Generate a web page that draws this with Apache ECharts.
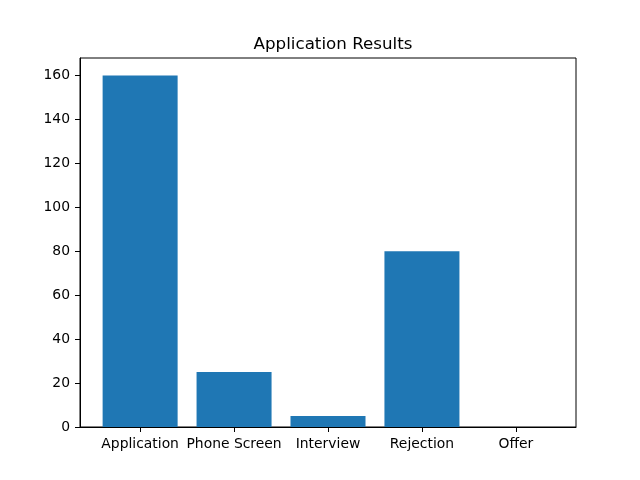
<!DOCTYPE html>
<html lang="en">
<head>
    <meta charset="utf-8" />
    <title>Application Results</title>
    <script src="https://cdn.jsdelivr.net/npm/echarts@6/dist/echarts.min.js"></script>
</head>
<body style="margin: 0; background: #FFFFFF">
    <div id="chart" style="width: 640px; height: 480px"></div>
    <script>
    // data
    let categories = ['Application', 'Phone Screen', 'Interview', 'Rejection', 'Offer']
    let counts = [160, 25, 5, 80, 0]
    let yTicks = [0, 20, 40, 60, 80, 100, 120, 140, 160]

    let font = 'DejaVu Sans'
    let chart = echarts.init(document.getElementById('chart'), null, { renderer: 'canvas' })

    // bars sit on a numeric x axis so spacing matches the original (-0.64 .. 4.64)
    let barData = counts.map((v, i) => [i, v])
    let xIdx = categories.map((c, i) => i)

    chart.setOption({
        animation: false,
        backgroundColor: '#FFFFFF',
        title: {
            text: 'Application Results',
            left: 328,
            top: 31,
            textAlign: 'center',
            textStyle: { fontFamily: font, fontSize: 16.7, fontWeight: 'normal', color: '#000' }
        },
        grid: {
            left: 80, right: 64, top: 58, bottom: 53,
            show: true, borderColor: '#000', borderWidth: 1, backgroundColor: 'transparent'
        },
        xAxis: {
            type: 'value',
            min: -0.64,
            max: 4.64,
            splitLine: { show: false },
            axisLine: { show: true, onZero: false, lineStyle: { color: '#000', width: 1 } },
            axisTick: { show: true, length: 5, customValues: xIdx, lineStyle: { color: '#000' } },
            axisLabel: {
                customValues: xIdx,
                margin: 10,
                color: '#000',
                fontFamily: font,
                fontSize: 13.9,
                formatter: v => categories[Math.round(v)]
            }
        },
        yAxis: {
            type: 'value',
            min: 0,
            max: 168,
            splitLine: { show: false },
            axisLine: { show: true, onZero: false, lineStyle: { color: '#000', width: 1 } },
            axisTick: { show: true, length: 5, customValues: yTicks, lineStyle: { color: '#000' } },
            axisLabel: {
                customValues: yTicks,
                margin: 10,
                color: '#000',
                fontFamily: font,
                fontSize: 13.9
            }
        },
        series: [{
            type: 'bar',
            data: barData,
            barWidth: 75,
            itemStyle: { color: '#1f77b4' }
        }]
    })
    </script>
</body>
</html>
